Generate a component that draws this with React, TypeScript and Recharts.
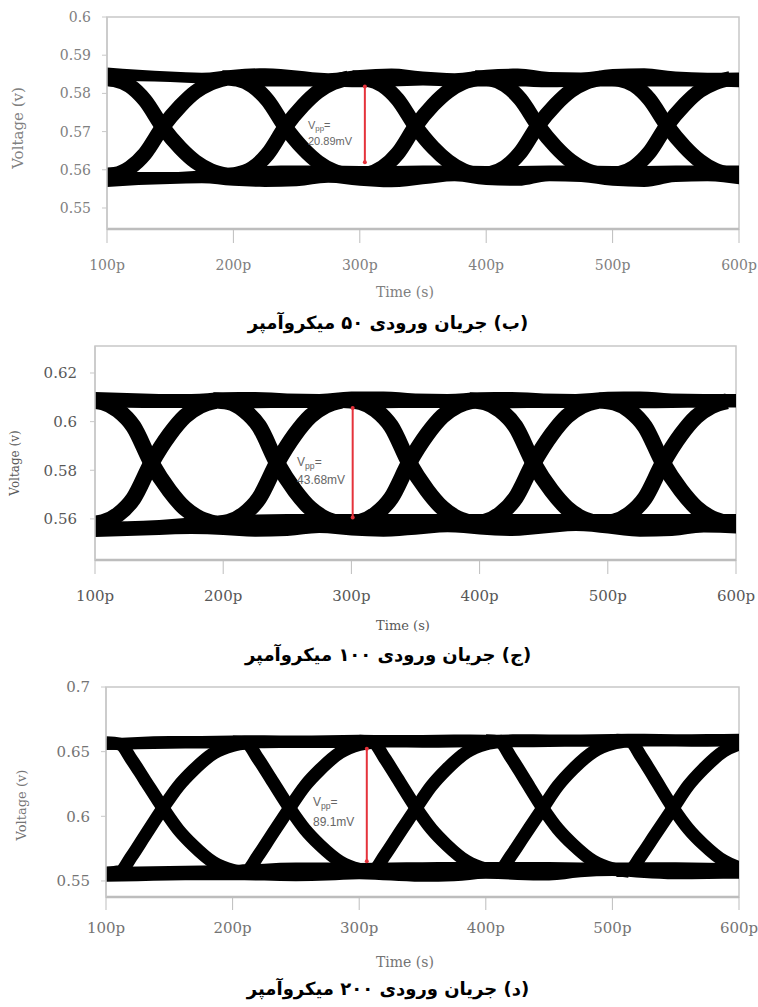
import React from 'react'
import { ComposedChart, Area, Line, XAxis, YAxis, ReferenceArea, ReferenceDot } from 'recharts'

// shared x axis (time, ps)
const TIME_TICKS = [100, 200, 300, 400, 500, 600]
const RAIL_T = [100, 125, 150, 175, 200, 225, 250, 275, 300, 325, 350, 375, 400, 425, 450, 475, 500, 525, 550, 575, 600]
// sample offsets (ps) around each crossing point
const EDGE_DT = [-50, -38, -26, -14, 0, 14, 26, 38, 50]
const EDGE_DT_200 = [-45, -34, -25, -15, 0, 12, 24, 40, 55, 68]

// ---- (ب) 50 uA ----
const P1_V_TICKS = [0.55, 0.56, 0.57, 0.58, 0.59, 0.6]
const P1_CROSS = [144, 241, 344, 441, 543]
const P1_FALL = [
  [0.5840, 0.5836, 0.5820, 0.5782, 0.5712, 0.5657, 0.5621, 0.5598, 0.5586],
  [0.5841, 0.5837, 0.5820, 0.5782, 0.5712, 0.5656, 0.5620, 0.5597, 0.5585],
  [0.5841, 0.5837, 0.5821, 0.5784, 0.5714, 0.5658, 0.5622, 0.5598, 0.5586],
  [0.5841, 0.5838, 0.5822, 0.5785, 0.5716, 0.5660, 0.5623, 0.5599, 0.5587],
  [0.5840, 0.5837, 0.5822, 0.5785, 0.5716, 0.5660, 0.5623, 0.5599, 0.5587],
]
const P1_RISE = [
  [0.5585, 0.5588, 0.5605, 0.5642, 0.5712, 0.5767, 0.5804, 0.5827, 0.5839],
  [0.5585, 0.5589, 0.5604, 0.5641, 0.5712, 0.5768, 0.5805, 0.5828, 0.5840],
  [0.5585, 0.5589, 0.5606, 0.5643, 0.5714, 0.5770, 0.5806, 0.5829, 0.5840],
  [0.5586, 0.5590, 0.5607, 0.5645, 0.5716, 0.5771, 0.5807, 0.5829, 0.5840],
  [0.5586, 0.5590, 0.5607, 0.5645, 0.5716, 0.5771, 0.5807, 0.5828, 0.5839],
]
const P1_UP_HI = [0.5868, 0.5862, 0.5857, 0.5854, 0.5862, 0.5866, 0.5860, 0.5853, 0.5861, 0.5865, 0.5857, 0.5853, 0.5862, 0.5865, 0.5856, 0.5855, 0.5864, 0.5866, 0.5857, 0.5854, 0.5855]
const P1_UP_LO = [0.5834, 0.5832, 0.5830, 0.5826, 0.5821, 0.5818, 0.5818, 0.5818, 0.5816, 0.5818, 0.5821, 0.5818, 0.5818, 0.5818, 0.5816, 0.5818, 0.5818, 0.5818, 0.5818, 0.5818, 0.5816]
const P1_DN_HI = [0.5596, 0.5594, 0.5594, 0.5598, 0.5605, 0.5610, 0.5611, 0.5611, 0.5610, 0.5610, 0.5611, 0.5611, 0.5610, 0.5610, 0.5611, 0.5611, 0.5610, 0.5610, 0.5611, 0.5611, 0.5611]
const P1_DN_LO = [0.5555, 0.5560, 0.5563, 0.5565, 0.5558, 0.5555, 0.5557, 0.5566, 0.5558, 0.5554, 0.5562, 0.5570, 0.5560, 0.5558, 0.5570, 0.5568, 0.5558, 0.5555, 0.5568, 0.5570, 0.5562]
const P1_VPP_T = 304
const P1_VPP = [0.5818, 0.5620]

// ---- (ج) 100 uA ----
const P2_V_TICKS = [0.56, 0.58, 0.6, 0.62]
const P2_CROSS = [144, 242, 345, 442, 543]
const P2_FALL = [
  [0.6088, 0.6080, 0.6047, 0.5980, 0.5830, 0.5717, 0.5644, 0.5601, 0.5581],
  [0.6088, 0.6081, 0.6048, 0.5981, 0.5830, 0.5716, 0.5643, 0.5600, 0.5580],
  [0.6089, 0.6081, 0.6048, 0.5981, 0.5831, 0.5718, 0.5645, 0.5602, 0.5582],
  [0.6088, 0.6080, 0.6047, 0.5980, 0.5830, 0.5717, 0.5645, 0.5602, 0.5582],
  [0.6087, 0.6079, 0.6046, 0.5979, 0.5830, 0.5718, 0.5646, 0.5603, 0.5583],
]
const P2_RISE = [
  [0.5578, 0.5586, 0.5618, 0.5684, 0.5830, 0.5946, 0.6021, 0.6065, 0.6085],
  [0.5579, 0.5587, 0.5619, 0.5685, 0.5830, 0.5947, 0.6022, 0.6066, 0.6086],
  [0.5580, 0.5588, 0.5620, 0.5686, 0.5831, 0.5947, 0.6022, 0.6066, 0.6086],
  [0.5580, 0.5588, 0.5620, 0.5686, 0.5830, 0.5946, 0.6021, 0.6065, 0.6085],
  [0.5581, 0.5589, 0.5621, 0.5686, 0.5830, 0.5946, 0.6020, 0.6064, 0.6084],
]
const P2_UP_HI = [0.6122, 0.6118, 0.6114, 0.6114, 0.6121, 0.6122, 0.6116, 0.6114, 0.6124, 0.6124, 0.6116, 0.6114, 0.6121, 0.6122, 0.6116, 0.6114, 0.6123, 0.6124, 0.6116, 0.6114, 0.6114]
const P2_UP_LO = [0.6058, 0.6057, 0.6056, 0.6056, 0.6055, 0.6055, 0.6056, 0.6056, 0.6055, 0.6055, 0.6056, 0.6056, 0.6055, 0.6055, 0.6056, 0.6056, 0.6055, 0.6055, 0.6056, 0.6057, 0.6058]
const P2_DN_HI = [0.5588, 0.5590, 0.5596, 0.5606, 0.5614, 0.5618, 0.5620, 0.5620, 0.5620, 0.5620, 0.5620, 0.5620, 0.5620, 0.5620, 0.5620, 0.5620, 0.5620, 0.5620, 0.5620, 0.5620, 0.5620]
const P2_DN_LO = [0.5526, 0.5530, 0.5534, 0.5538, 0.5534, 0.5527, 0.5530, 0.5542, 0.5532, 0.5527, 0.5535, 0.5545, 0.5536, 0.5530, 0.5540, 0.5550, 0.5540, 0.5527, 0.5530, 0.5544, 0.5540]
const P2_VPP_T = 301
const P2_VPP = [0.6056, 0.5606]

// ---- (د) 200 uA ----
const P3_V_TICKS = [0.55, 0.6, 0.65, 0.7]
const P3_CROSS = [145, 245, 345, 445, 548]
const P3_FALL = [
  [0.6568, 0.6558, 0.6442, 0.6291, 0.6064, 0.5898, 0.5773, 0.5642, 0.5582, 0.5562],
  [0.6575, 0.6565, 0.6447, 0.6294, 0.6064, 0.5901, 0.5777, 0.5649, 0.5590, 0.5570],
  [0.6580, 0.6570, 0.6451, 0.6296, 0.6064, 0.5902, 0.5779, 0.5651, 0.5592, 0.5572],
  [0.6584, 0.6574, 0.6454, 0.6298, 0.6064, 0.5902, 0.5780, 0.5653, 0.5594, 0.5575],
  [0.6588, 0.6578, 0.6457, 0.6300, 0.6064, 0.5903, 0.5781, 0.5655, 0.5596, 0.5580],
]
const P3_RISE = [
  [0.5562, 0.5572, 0.5687, 0.5838, 0.6064, 0.6230, 0.6356, 0.6487, 0.6548, 0.6568],
  [0.5570, 0.5580, 0.5693, 0.5842, 0.6064, 0.6233, 0.6360, 0.6493, 0.6555, 0.6575],
  [0.5572, 0.5582, 0.5695, 0.5843, 0.6064, 0.6234, 0.6363, 0.6497, 0.6559, 0.6580],
  [0.5575, 0.5585, 0.5697, 0.5844, 0.6064, 0.6236, 0.6366, 0.6500, 0.6563, 0.6584],
  [0.5580, 0.5590, 0.5700, 0.5846, 0.6064, 0.6238, 0.6368, 0.6504, 0.6567, 0.6588],
]
const P3_UP_HI = [0.6600, 0.6614, 0.6622, 0.6621, 0.6625, 0.6627, 0.6624, 0.6626, 0.6630, 0.6628, 0.6629, 0.6632, 0.6631, 0.6634, 0.6633, 0.6632, 0.6636, 0.6638, 0.6635, 0.6637, 0.6639]
const P3_UP_LO = [0.6512, 0.6519, 0.6523, 0.6525, 0.6524, 0.6527, 0.6529, 0.6528, 0.6530, 0.6532, 0.6531, 0.6533, 0.6535, 0.6534, 0.6536, 0.6538, 0.6537, 0.6539, 0.6540, 0.6538, 0.6541]
const P3_DN_HI = [0.5607, 0.5612, 0.5616, 0.5620, 0.5624, 0.5634, 0.5642, 0.5642, 0.5638, 0.5642, 0.5644, 0.5646, 0.5647, 0.5647, 0.5647, 0.5642, 0.5642, 0.5644, 0.5644, 0.5640, 0.5638]
const P3_DN_LO = [0.5493, 0.5498, 0.5503, 0.5505, 0.5505, 0.5503, 0.5498, 0.5503, 0.5513, 0.5503, 0.5493, 0.5498, 0.5518, 0.5508, 0.5503, 0.5528, 0.5538, 0.5523, 0.5513, 0.5516, 0.5518]
const P3_VPP_T = 306
const P3_VPP = [0.6522, 0.5652]

const edges = (cross: number[], dt: number[], vals: number[][]) =>
  cross.map((c, i) => dt.map((d, j) => ({ t: c + d, v: vals[i][j] })))

const rails = (upLo: number[], upHi: number[], dnLo: number[], dnHi: number[]) =>
  RAIL_T.map((t, i) => ({ t, up: [upLo[i], upHi[i]], dn: [dnLo[i], dnHi[i]] }))

const PANELS = [
  {
    id: 'p1', top: 0, margin: { top: 17, right: 19, left: 12, bottom: 21 }, yWidth: 95,
    domain: [0.5445, 0.6], vTicks: P1_V_TICKS,
    falls: edges(P1_CROSS, EDGE_DT, P1_FALL), rises: edges(P1_CROSS, EDGE_DT, P1_RISE),
    rails: rails(P1_UP_LO, P1_UP_HI, P1_DN_LO, P1_DN_HI),
    vpp: P1_VPP.map((v) => ({ t: P1_VPP_T, v })), vppText: '20.89mV', note: [259, 0.5708], noteSize: 11, noteGap: 16,
    width: 15, tickColor: '#808080', tickFont: 14, xTick: [14, 17], yTickMargin: 11,
    yTitle: { x: 18, y: 128, size: 15 }, xTitle: { x: 405, y: 292, size: 14 },
    caption: '(ب) جریان ورودی ۵۰ میکروآمپر', captionY: 323,
  },
  {
    id: 'p2', top: 330, margin: { top: 16, right: 22, left: 10, bottom: 20 }, yWidth: 85,
    domain: [0.5431, 0.6311], vTicks: P2_V_TICKS,
    falls: edges(P2_CROSS, EDGE_DT, P2_FALL), rises: edges(P2_CROSS, EDGE_DT, P2_RISE),
    rails: rails(P2_UP_LO, P2_UP_HI, P2_DN_LO, P2_DN_HI),
    vpp: P2_VPP.map((v) => ({ t: P2_VPP_T, v })), vppText: '43.68mV', note: [257.6, 0.5818], noteSize: 12, noteGap: 18,
    width: 16, tickColor: '#585858', tickFont: 15, xTick: [14, 16], yTickMargin: 13,
    yTitle: { x: 15, y: 463, size: 12 }, xTitle: { x: 403, y: 625, size: 13 },
    caption: '(ج) جریان ورودی ۱۰۰ میکروآمپر', captionY: 655,
  },
  {
    id: 'p3', top: 670, margin: { top: 17, right: 19, left: 11, bottom: 23 }, yWidth: 95,
    domain: [0.5376, 0.7], vTicks: P3_V_TICKS,
    falls: edges(P3_CROSS, EDGE_DT_200, P3_FALL), rises: edges(P3_CROSS, EDGE_DT_200, P3_RISE),
    rails: rails(P3_UP_LO, P3_UP_HI, P3_DN_LO, P3_DN_HI),
    vpp: P3_VPP.map((v) => ({ t: P3_VPP_T, v })), vppText: '89.1mV', note: [263.5, 0.608], noteSize: 12, noteGap: 20,
    width: 13, tickColor: '#747474', tickFont: 15, xTick: [13, 12], yTickMargin: 11,
    yTitle: { x: 21, y: 805, size: 13 }, xTitle: { x: 405, y: 962, size: 14 },
    caption: '(د) جریان ورودی ۲۰۰ میکروآمپر', captionY: 989,
  },
]

type PanelCfg = (typeof PANELS)[number]

const RED = '#e5323b'
const FRAME = '#c8c8c8'

function EyePanel({ p }: { p: PanelCfg }) {
  const note = (props: any) => (
    <g>
      <text x={props.cx} y={props.cy} fontSize={p.noteSize} fill="#666" fontFamily="Liberation Sans">
        V<tspan fontSize={p.noteSize * 0.72} dy={p.noteSize * 0.25}>pp</tspan>
        <tspan dy={-p.noteSize * 0.25}>=</tspan>
      </text>
      <text x={props.cx} y={props.cy + p.noteGap} fontSize={p.noteSize} fill="#666" fontFamily="Liberation Sans">
        {p.vppText}
      </text>
    </g>
  )
  const tick = { fill: p.tickColor, fontSize: p.tickFont, fontFamily: 'DejaVu Serif' }
  return (
    <>
      <div style={{ position: 'absolute', left: 0, top: p.top }}>
        <ComposedChart width={758} height={300} margin={p.margin}>
          <ReferenceArea x1={100} x2={600} y1={p.domain[0]} y2={p.domain[1]} fill="none" stroke={FRAME} strokeWidth={1.5} />
          <XAxis
            type="number"
            dataKey="t"
            domain={[100, 600]}
            ticks={TIME_TICKS}
            interval={0}
            allowDataOverflow
            tickFormatter={(v: number) => `${v}p`}
            axisLine={{ stroke: '#bdbdbd', strokeWidth: 2.5 }}
            tickLine={{ stroke: '#bdbdbd' }}
            tickSize={p.xTick[0]}
            tickMargin={p.xTick[1]}
            tick={tick}
            height={50}
          />
          <YAxis
            type="number"
            domain={p.domain}
            ticks={p.vTicks}
            interval={0}
            allowDataOverflow
            width={p.yWidth}
            tickFormatter={(v: number) => String(v)}
            axisLine={{ stroke: FRAME, strokeWidth: 1.5 }}
            tickLine={{ stroke: FRAME }}
            tickSize={5}
            tickMargin={p.yTickMargin}
            tick={tick}
          />
          <Area data={p.rails} dataKey="up" type="monotone" stroke="none" fill="#000" fillOpacity={1} isAnimationActive={false} />
          <Area data={p.rails} dataKey="dn" type="monotone" stroke="none" fill="#000" fillOpacity={1} isAnimationActive={false} />
          {p.falls.map((d, i) => (
            <Line key={`f${i}`} data={d} dataKey="v" type="monotone" stroke="#000" strokeWidth={p.width} dot={false} isAnimationActive={false} />
          ))}
          {p.rises.map((d, i) => (
            <Line key={`r${i}`} data={d} dataKey="v" type="monotone" stroke="#000" strokeWidth={p.width} dot={false} isAnimationActive={false} />
          ))}
          <Line data={p.vpp} dataKey="v" type="linear" stroke={RED} strokeWidth={2} dot={{ r: 2, fill: RED, stroke: 'none' }} isAnimationActive={false} />
          <ReferenceDot x={p.note[0]} y={p.note[1]} r={0} shape={note} />
        </ComposedChart>
      </div>
      <div
        style={{
          position: 'absolute', left: p.yTitle.x, top: p.yTitle.y, transform: 'translate(-50%, -50%) rotate(-90deg)',
          whiteSpace: 'nowrap', fontFamily: 'DejaVu Serif', fontSize: p.yTitle.size, color: p.tickColor, lineHeight: 1,
        }}
      >
        Voltage (v)
      </div>
      <div
        style={{
          position: 'absolute', left: p.xTitle.x, top: p.xTitle.y, transform: 'translate(-50%, -50%)',
          whiteSpace: 'nowrap', fontFamily: 'DejaVu Serif', fontSize: p.xTitle.size, color: p.tickColor, lineHeight: 1,
        }}
      >
        Time (s)
      </div>
      <div
        dir="rtl"
        style={{
          position: 'absolute', left: 388, top: p.captionY, transform: 'translate(-50%, -50%)',
          whiteSpace: 'nowrap', fontFamily: 'DejaVu Sans', fontWeight: 'bold', fontSize: 18, color: '#000', lineHeight: 1,
        }}
      >
        {p.caption}
      </div>
    </>
  )
}

export default function App() {
  return (
    <div style={{ position: 'absolute', left: 0, top: 0, width: 758, height: 1007, background: '#fff' }}>
      {PANELS.map((p) => (
        <EyePanel key={p.id} p={p} />
      ))}
    </div>
  )
}
